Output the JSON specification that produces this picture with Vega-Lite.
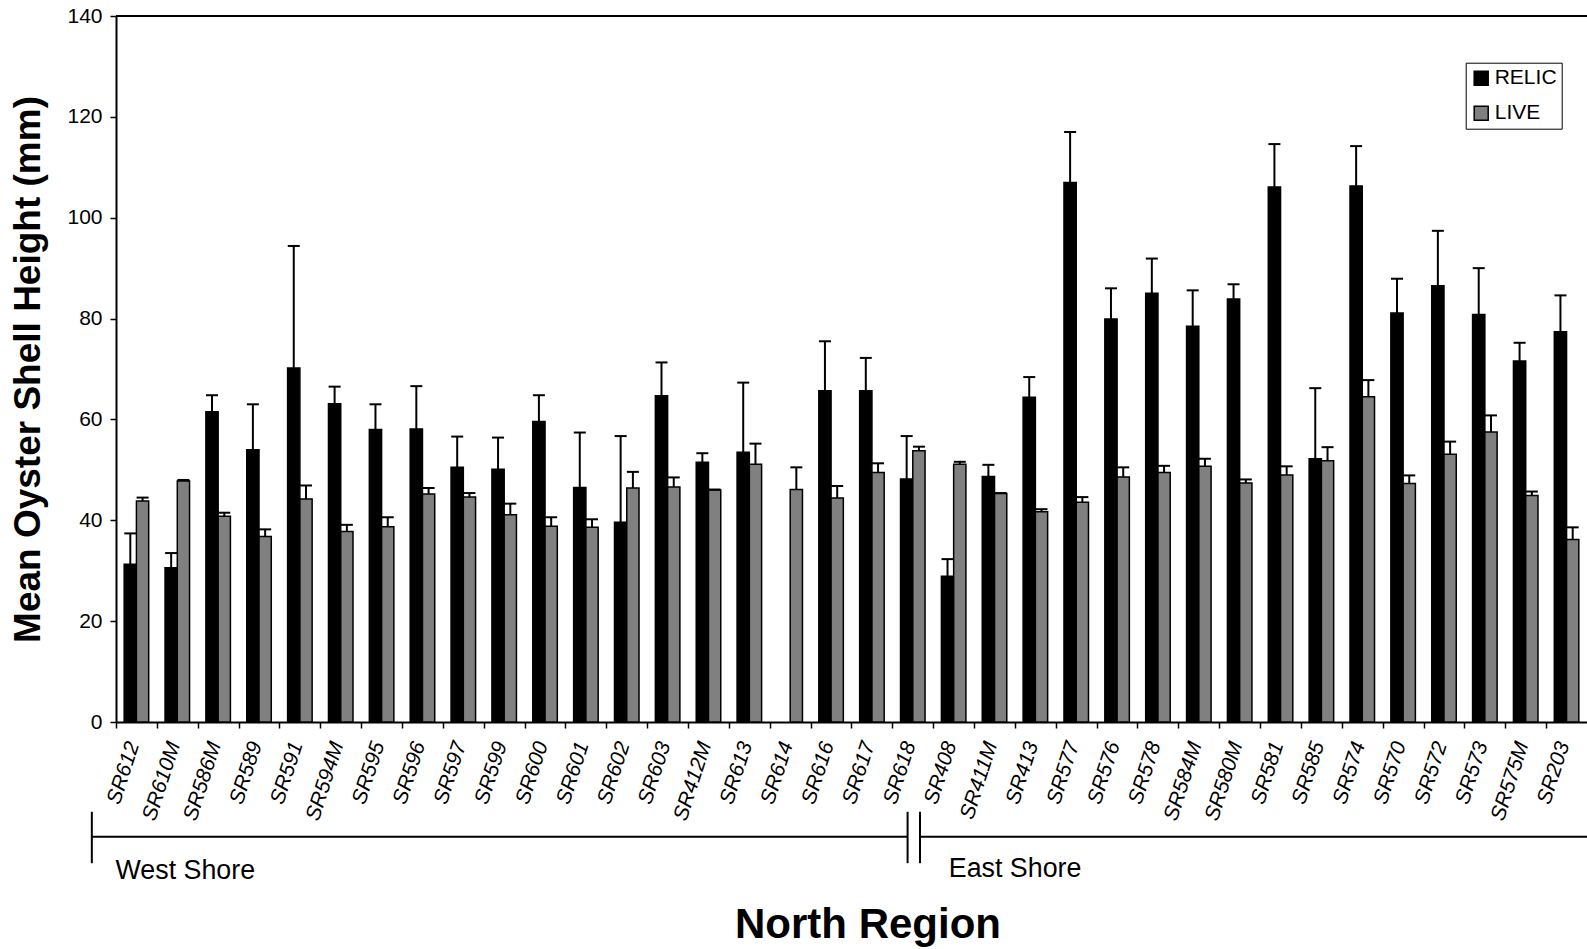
{
  "$schema": "https://vega.github.io/schema/vega-lite/v6.json",
  "width": 1471,
  "height": 706,
  "autosize": {"type": "none"},
  "padding": {"left": 116, "top": 16, "right": 0, "bottom": 227},
  "background": "white",
  "config": {
    "view": {"stroke": null},
    "font": "Liberation Sans",
    "axis": {"labelColor": "black", "titleColor": "black", "domainColor": "black", "tickColor": "black", "grid": false}
  },
  "datasets": {
    "oyster": [
      {"site": "SR612", "type": "RELIC", "mean": 31.3, "upper": 37.4},
      {"site": "SR612", "type": "LIVE", "mean": 43.8, "upper": 44.5},
      {"site": "SR610M", "type": "RELIC", "mean": 30.6, "upper": 33.5},
      {"site": "SR610M", "type": "LIVE", "mean": 47.8, "upper": 48.0},
      {"site": "SR586M", "type": "RELIC", "mean": 61.5, "upper": 64.8},
      {"site": "SR586M", "type": "LIVE", "mean": 40.8, "upper": 41.5},
      {"site": "SR589", "type": "RELIC", "mean": 54.0, "upper": 63.0},
      {"site": "SR589", "type": "LIVE", "mean": 36.8, "upper": 38.2},
      {"site": "SR591", "type": "RELIC", "mean": 70.2, "upper": 94.4},
      {"site": "SR591", "type": "LIVE", "mean": 44.2, "upper": 46.9},
      {"site": "SR594M", "type": "RELIC", "mean": 63.1, "upper": 66.5},
      {"site": "SR594M", "type": "LIVE", "mean": 37.8, "upper": 39.1},
      {"site": "SR595", "type": "RELIC", "mean": 58.0, "upper": 63.0},
      {"site": "SR595", "type": "LIVE", "mean": 38.7, "upper": 40.6},
      {"site": "SR596", "type": "RELIC", "mean": 58.1, "upper": 66.6},
      {"site": "SR596", "type": "LIVE", "mean": 45.2, "upper": 46.4},
      {"site": "SR597", "type": "RELIC", "mean": 50.5, "upper": 56.6},
      {"site": "SR597", "type": "LIVE", "mean": 44.6, "upper": 45.4},
      {"site": "SR599", "type": "RELIC", "mean": 50.1, "upper": 56.4},
      {"site": "SR599", "type": "LIVE", "mean": 41.1, "upper": 43.3},
      {"site": "SR600", "type": "RELIC", "mean": 59.6, "upper": 64.8},
      {"site": "SR600", "type": "LIVE", "mean": 38.8, "upper": 40.6},
      {"site": "SR601", "type": "RELIC", "mean": 46.5, "upper": 57.4},
      {"site": "SR601", "type": "LIVE", "mean": 38.6, "upper": 40.2},
      {"site": "SR602", "type": "RELIC", "mean": 39.6, "upper": 56.7},
      {"site": "SR602", "type": "LIVE", "mean": 46.4, "upper": 49.6},
      {"site": "SR603", "type": "RELIC", "mean": 64.7, "upper": 71.3},
      {"site": "SR603", "type": "LIVE", "mean": 46.6, "upper": 48.5},
      {"site": "SR412M", "type": "RELIC", "mean": 51.5, "upper": 53.3},
      {"site": "SR412M", "type": "LIVE", "mean": 46.0, "upper": 46.1},
      {"site": "SR613", "type": "RELIC", "mean": 53.5, "upper": 67.3},
      {"site": "SR613", "type": "LIVE", "mean": 51.1, "upper": 55.2},
      {"site": "SR614", "type": "LIVE", "mean": 46.1, "upper": 50.5},
      {"site": "SR616", "type": "RELIC", "mean": 65.7, "upper": 75.5},
      {"site": "SR616", "type": "LIVE", "mean": 44.4, "upper": 46.8},
      {"site": "SR617", "type": "RELIC", "mean": 65.7, "upper": 72.2},
      {"site": "SR617", "type": "LIVE", "mean": 49.5, "upper": 51.3},
      {"site": "SR618", "type": "RELIC", "mean": 48.2, "upper": 56.7},
      {"site": "SR618", "type": "LIVE", "mean": 53.8, "upper": 54.6},
      {"site": "SR408", "type": "RELIC", "mean": 28.9, "upper": 32.3},
      {"site": "SR408", "type": "LIVE", "mean": 51.1, "upper": 51.6},
      {"site": "SR411M", "type": "RELIC", "mean": 48.7, "upper": 51.0},
      {"site": "SR411M", "type": "LIVE", "mean": 45.3, "upper": 45.4},
      {"site": "SR413", "type": "RELIC", "mean": 64.4, "upper": 68.4},
      {"site": "SR413", "type": "LIVE", "mean": 41.7, "upper": 42.2},
      {"site": "SR577", "type": "RELIC", "mean": 107.0, "upper": 117.0},
      {"site": "SR577", "type": "LIVE", "mean": 43.6, "upper": 44.6},
      {"site": "SR576", "type": "RELIC", "mean": 79.9, "upper": 86.0},
      {"site": "SR576", "type": "LIVE", "mean": 48.6, "upper": 50.5},
      {"site": "SR578", "type": "RELIC", "mean": 85.0, "upper": 91.9},
      {"site": "SR578", "type": "LIVE", "mean": 49.5, "upper": 50.8},
      {"site": "SR584M", "type": "RELIC", "mean": 78.5, "upper": 85.6},
      {"site": "SR584M", "type": "LIVE", "mean": 50.7, "upper": 52.2},
      {"site": "SR580M", "type": "RELIC", "mean": 83.9, "upper": 86.8},
      {"site": "SR580M", "type": "LIVE", "mean": 47.4, "upper": 48.1},
      {"site": "SR581", "type": "RELIC", "mean": 106.1, "upper": 114.6},
      {"site": "SR581", "type": "LIVE", "mean": 49.0, "upper": 50.7},
      {"site": "SR585", "type": "RELIC", "mean": 52.2, "upper": 66.2},
      {"site": "SR585", "type": "LIVE", "mean": 51.8, "upper": 54.5},
      {"site": "SR574", "type": "RELIC", "mean": 106.3, "upper": 114.2},
      {"site": "SR574", "type": "LIVE", "mean": 64.5, "upper": 67.8},
      {"site": "SR570", "type": "RELIC", "mean": 81.1, "upper": 87.9},
      {"site": "SR570", "type": "LIVE", "mean": 47.3, "upper": 48.9},
      {"site": "SR572", "type": "RELIC", "mean": 86.5, "upper": 97.4},
      {"site": "SR572", "type": "LIVE", "mean": 53.1, "upper": 55.6},
      {"site": "SR573", "type": "RELIC", "mean": 80.8, "upper": 90.0},
      {"site": "SR573", "type": "LIVE", "mean": 57.5, "upper": 60.8},
      {"site": "SR575M", "type": "RELIC", "mean": 71.6, "upper": 75.2},
      {"site": "SR575M", "type": "LIVE", "mean": 44.9, "upper": 45.7},
      {"site": "SR203", "type": "RELIC", "mean": 77.4, "upper": 84.6},
      {"site": "SR203", "type": "LIVE", "mean": 36.2, "upper": 38.6}
    ],
    "shores": [
      {"shore": "West Shore", "site": "SR612", "site_end": "SR618"},
      {"shore": "East Shore", "site": "SR618", "site_end": "SR203"}
    ],
    "frame": [{"top": 140}]
  },
  "layer": [
    {
      "data": {"name": "oyster"},
      "mark": {"type": "bar", "stroke": "black", "strokeWidth": 1.5},
      "encoding": {
        "x": {
          "field": "site", "type": "nominal", "title": "North Region",
          "scale": {
            "domain": ["SR612","SR610M","SR586M","SR589","SR591","SR594M","SR595","SR596","SR597","SR599","SR600","SR601","SR602","SR603","SR412M","SR613","SR614","SR616","SR617","SR618","SR408","SR411M","SR413","SR577","SR576","SR578","SR584M","SR580M","SR581","SR585","SR574","SR570","SR572","SR573","SR575M","SR203"],
            "paddingInner": 0.4, "paddingOuter": 0.2
          },
          "axis": {
            "bandPosition": 0, "tickOffset": -8.2, "labelOffset": 5, "labelAngle": -72, "labelFontSize": 21,
            "labelFontStyle": "italic", "labelPadding": 14, "labelOverlap": false, "labelBound": false,
            "tickSize": 6, "tickWidth": 1.5, "domainWidth": 2,
            "titleFontSize": 42, "titleFontWeight": "bold", "titleX": 751.5, "titleY": 215,
            "titleAlign": "center", "titleBaseline": "alphabetic"
          }
        },
        "xOffset": {"field": "type", "type": "nominal", "scale": {"domain": ["RELIC", "LIVE"], "paddingInner": 0, "paddingOuter": 0}},
        "y": {
          "field": "mean", "type": "quantitative", "title": "Mean Oyster Shell Height (mm)",
          "scale": {"domain": [0, 140], "nice": false},
          "axis": {
            "values": [0, 20, 40, 60, 80, 100, 120, 140], "labelFontSize": 21, "labelPadding": 8,
            "tickSize": 6, "tickWidth": 1.5, "domainWidth": 2,
            "titleFontSize": 37, "titleFontWeight": "bold", "titleAngle": 270, "titleX": -77, "titleY": 353,
            "titleAlign": "center", "titleBaseline": "alphabetic"
          }
        },
        "color": {
          "field": "type", "type": "nominal",
          "scale": {"domain": ["RELIC", "LIVE"], "range": ["#000000", "#808080"]},
          "legend": {
            "title": null, "orient": "none", "legendX": 1349.7, "legendY": 46.7, "direction": "vertical",
            "strokeColor": "black", "fillColor": "white", "padding": 5,
            "symbolType": "square", "symbolSize": 196, "symbolStrokeColor": "black", "symbolStrokeWidth": 1.5,
            "symbolOpacity": 1, "labelFontSize": 21, "labelColor": "black", "labelOffset": 3, "rowPadding": 13
          }
        }
      }
    },
    {
      "data": {"name": "oyster"},
      "mark": {"type": "rule", "color": "black", "strokeWidth": 2},
      "encoding": {
        "x": {"field": "site", "type": "nominal"},
        "xOffset": {"field": "type", "type": "nominal"},
        "y": {"field": "mean", "type": "quantitative"},
        "y2": {"field": "upper"}
      }
    },
    {
      "data": {"name": "oyster"},
      "mark": {"type": "tick", "color": "black", "thickness": 2, "size": 12, "orient": "horizontal", "opacity": 1},
      "encoding": {
        "x": {"field": "site", "type": "nominal"},
        "xOffset": {"field": "type", "type": "nominal"},
        "y": {"field": "upper", "type": "quantitative"}
      }
    },
    {
      "data": {"name": "frame"},
      "mark": {"type": "rule", "color": "black", "strokeWidth": 2},
      "encoding": {"y": {"field": "top", "type": "quantitative"}}
    },
    {
      "data": {"name": "shores"},
      "transform": [{"filter": "datum.shore === 'West Shore'"}],
      "mark": {"type": "rule", "color": "black", "strokeWidth": 2, "xOffset": -44.6, "x2Offset": -5.2},
      "encoding": {
        "x": {"field": "site", "type": "nominal"},
        "x2": {"field": "site_end"},
        "y": {"datum": -22.74, "type": "quantitative"}
      }
    },
    {
      "data": {"name": "shores"},
      "transform": [{"filter": "datum.shore === 'East Shore'"}],
      "mark": {"type": "rule", "color": "black", "strokeWidth": 2, "xOffset": 7.2, "x2Offset": 21},
      "encoding": {
        "x": {"field": "site", "type": "nominal"},
        "x2": {"field": "site_end"},
        "y": {"datum": -22.74, "type": "quantitative"}
      }
    },
    {
      "data": {"name": "shores"},
      "transform": [{"filter": "datum.shore === 'West Shore'"}],
      "mark": {"type": "rule", "color": "black", "strokeWidth": 2, "xOffset": -44.6},
      "encoding": {
        "x": {"field": "site", "type": "nominal"},
        "y": {"datum": -17.8, "type": "quantitative"},
        "y2": {"datum": -28.0}
      }
    },
    {
      "data": {"name": "shores"},
      "transform": [{"filter": "datum.shore === 'West Shore'"}],
      "mark": {"type": "rule", "color": "black", "strokeWidth": 2, "xOffset": -5.2},
      "encoding": {
        "x": {"field": "site_end", "type": "nominal"},
        "y": {"datum": -17.8, "type": "quantitative"},
        "y2": {"datum": -28.0}
      }
    },
    {
      "data": {"name": "shores"},
      "transform": [{"filter": "datum.shore === 'East Shore'"}],
      "mark": {"type": "rule", "color": "black", "strokeWidth": 2, "xOffset": 7.2},
      "encoding": {
        "x": {"field": "site", "type": "nominal"},
        "y": {"datum": -17.8, "type": "quantitative"},
        "y2": {"datum": -28.0}
      }
    },
    {
      "data": {"name": "shores"},
      "transform": [{"filter": "datum.shore === 'West Shore'"}],
      "mark": {"type": "text", "color": "black", "fontSize": 26.8, "align": "left", "baseline": "alphabetic", "xOffset": -20.9},
      "encoding": {
        "x": {"field": "site", "type": "nominal"},
        "y": {"datum": -31.1, "type": "quantitative"},
        "text": {"field": "shore"}
      }
    },
    {
      "data": {"name": "shores"},
      "transform": [{"filter": "datum.shore === 'East Shore'"}],
      "mark": {"type": "text", "color": "black", "fontSize": 26.8, "align": "left", "baseline": "alphabetic", "xOffset": 36},
      "encoding": {
        "x": {"field": "site", "type": "nominal"},
        "y": {"datum": -30.8, "type": "quantitative"},
        "text": {"field": "shore"}
      }
    }
  ]
}
